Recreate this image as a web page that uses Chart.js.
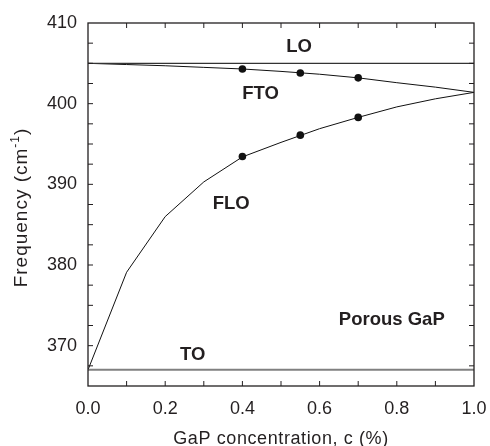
<!DOCTYPE html>
<html>
<head>
<meta charset="utf-8">
<script src="https://cdn.jsdelivr.net/npm/chart.js@4.4.1/dist/chart.umd.min.js"></script>
<style>
  html, body { margin: 0; padding: 0; background: #fff; }
  #wrap { width: 490px; height: 446px; }
</style>
</head>
<body>
<div id="wrap"><canvas id="freqChart"></canvas></div>
<script>
// GaP concentration for the model curves
const conc = [0, 0.1, 0.2, 0.3, 0.4, 0.5, 0.6, 0.7, 0.8, 0.9, 1.0];
const ftoCurve = [405, 404.85, 404.7, 404.5, 404.3, 404.0, 403.65, 403.2, 402.6, 402.05, 401.4];
const floCurve = [367, 379.1, 386.0, 390.3, 393.4, 395.2, 396.9, 398.3, 399.6, 400.6, 401.4];

// bulk LO / TO phonons
const loFreq = 405;
const toFreq = 367;

// measured samples
const sampleConc = [0.4, 0.55, 0.7];
const ftoMeasured = [404.3, 403.8, 403.2];
const floMeasured = [393.45, 396.1, 398.3];

// tick labels
const xTicks = [0, 0.2, 0.4, 0.6, 0.8, 1.0];
const yTicks = [370, 380, 390, 400, 410];

const FONT = '"Liberation Sans", Arial, Helvetica, sans-serif';
const INK = '#231f20';

// text put inside the plot, anchored in data units
const notes = [
  { text: 'LO', x: 0.547, y: 407.0 },
  { text: 'FTO', x: 0.447, y: 401.2 },
  { text: 'FLO', x: 0.371, y: 387.6 },
  { text: 'TO', x: 0.271, y: 368.9 },
  { text: 'Porous GaP', x: 0.787, y: 373.2 }
];

const toPoints = (xs, ys) => xs.map((v, i) => ({ x: v, y: ys[i] }));

// frame with inward ticks on all sides, titles and notes
const framePlugin = {
  id: 'frame',
  afterDatasetsDraw(chart) {
    const { ctx, chartArea: a, scales: { x, y } } = chart;
    ctx.save();
    ctx.strokeStyle = INK;
    ctx.lineWidth = 1.3;
    ctx.strokeRect(a.left, a.top, a.right - a.left, a.bottom - a.top);

    ctx.lineWidth = 1;
    ctx.beginPath();
    for (let i = 1; i < 10; i++) {
      const px = x.getPixelForValue(i / 10);
      ctx.moveTo(px, a.bottom); ctx.lineTo(px, a.bottom - 5);
      ctx.moveTo(px, a.top); ctx.lineTo(px, a.top + 5);
    }
    for (let i = 1; i < 18; i++) {
      const py = y.getPixelForValue(365 + i * 2.5);
      ctx.moveTo(a.left, py); ctx.lineTo(a.left + 5, py);
      ctx.moveTo(a.right, py); ctx.lineTo(a.right - 5, py);
    }
    ctx.stroke();

    // notes
    ctx.fillStyle = INK;
    ctx.font = 'bold 18.5px ' + FONT;
    ctx.textAlign = 'center';
    ctx.textBaseline = 'middle';
    notes.forEach(n => ctx.fillText(n.text, x.getPixelForValue(n.x), y.getPixelForValue(n.y)));

    // x title
    ctx.font = '18px ' + FONT;
    ctx.letterSpacing = '0.6px';
    ctx.textBaseline = 'alphabetic';
    ctx.fillText('GaP concentration, c (%)', (a.left + a.right) / 2, 444);

    // y title with superscript
    ctx.letterSpacing = '1px';
    ctx.translate(27, (a.top + a.bottom) / 2 + 3);
    ctx.rotate(-Math.PI / 2);
    ctx.textAlign = 'left';
    const main = 'Frequency (cm';
    ctx.font = '19px ' + FONT;
    const w1 = ctx.measureText(main).width;
    const w3 = ctx.measureText(')').width;
    ctx.font = '12px ' + FONT;
    const w2 = ctx.measureText('-1').width;
    let sx = -(w1 + w2 + w3) / 2;
    ctx.font = '19px ' + FONT;
    ctx.fillText(main, sx, 0);
    ctx.font = '12px ' + FONT;
    ctx.fillText('-1', sx + w1, -8);
    ctx.font = '19px ' + FONT;
    ctx.fillText(')', sx + w1 + w2, 0);
    ctx.restore();
  }
};

document.addEventListener('DOMContentLoaded', function() {
  var ctx = document.getElementById('freqChart').getContext('2d');
  var freqChart = new Chart(ctx, {
    type: 'scatter',
    data: {
      datasets: [
        { label: 'LO', data: toPoints([0, 1], [loFreq, loFreq]), showLine: true,
          borderColor: '#333', borderWidth: 1.2, pointRadius: 0 },
        { label: 'TO', data: toPoints([0, 1], [toFreq, toFreq]), showLine: true,
          borderColor: '#808080', borderWidth: 2, pointRadius: 0 },
        { label: 'FTO', data: toPoints(conc, ftoCurve), showLine: true,
          borderColor: '#111', borderWidth: 1, pointRadius: 0 },
        { label: 'FLO', data: toPoints(conc, floCurve), showLine: true,
          borderColor: '#111', borderWidth: 1, pointRadius: 0 },
        { label: 'FTO measured', data: toPoints(sampleConc, ftoMeasured),
          pointRadius: 3.8, backgroundColor: '#111', borderWidth: 0 },
        { label: 'FLO measured', data: toPoints(sampleConc, floMeasured),
          pointRadius: 3.8, backgroundColor: '#111', borderWidth: 0 }
      ]
    },
    options: {
      responsive: true,
      maintainAspectRatio: false,
      animation: false,
      layout: { padding: { top: 23, right: 16, left: 0, bottom: 0 } },
      plugins: { legend: { display: false }, tooltip: { enabled: false } },
      scales: {
        x: {
          type: 'linear', min: 0, max: 1,
          grid: { display: false, drawTicks: false },
          border: { display: false },
          afterBuildTicks: s => { s.ticks = xTicks.map(v => ({ value: v })); },
          afterFit: s => { s.height = 60; s.paddingLeft = 0; s.paddingRight = 0; },
          ticks: {
            font: { family: FONT, size: 18 }, color: INK, padding: 12,
            maxRotation: 0, autoSkip: false,
            callback: v => v.toFixed(1)
          }
        },
        y: {
          min: 365, max: 410,
          grid: { display: false, drawTicks: false },
          border: { display: false },
          afterBuildTicks: s => { s.ticks = yTicks.map(v => ({ value: v })); },
          afterFit: s => { s.width = 88; s.paddingTop = 0; s.paddingBottom = 0; },
          ticks: {
            font: { family: FONT, size: 18 }, color: INK, padding: 11,
            callback: v => String(v)
          }
        }
      }
    },
    plugins: [framePlugin]
  });
});
</script>
</body>
</html>
